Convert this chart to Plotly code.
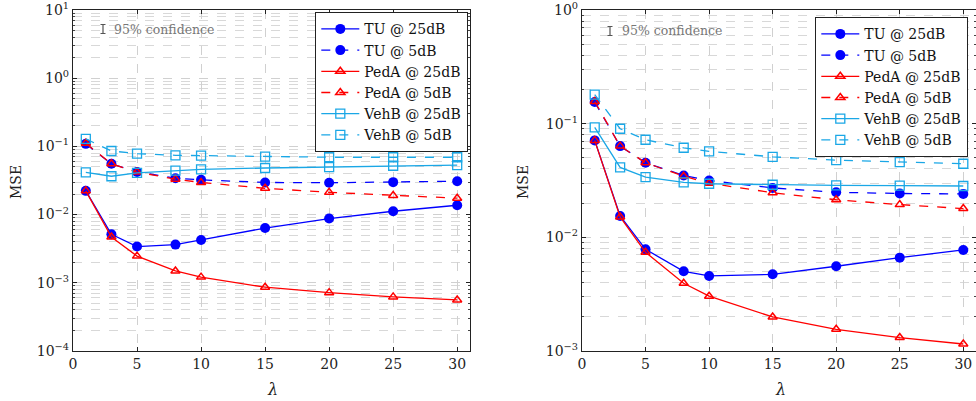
import plotly.graph_objects as go

lam = [1, 3, 5, 8, 10, 15, 20, 25, 30]

# Left panel
L_TU25 = [0.0223, 0.00513, 0.0034, 0.00363, 0.00425, 0.00634, 0.00875, 0.0112, 0.0137]
L_TU5 = [0.109, 0.0556, 0.0422, 0.0342, 0.0323, 0.0296, 0.0293, 0.0299, 0.0309]
L_PA25 = [0.0223, 0.00469, 0.00246, 0.00149, 0.00121, 0.00086, 0.000716, 0.00062, 0.00056]
L_PA5 = [0.111, 0.0556, 0.042, 0.0331, 0.0296, 0.0243, 0.0212, 0.019, 0.0174]
L_VB25 = [0.0417, 0.0365, 0.0408, 0.0441, 0.046, 0.0482, 0.0498, 0.052, 0.0532]
L_VB5 = [0.129, 0.0857, 0.0784, 0.0741, 0.0733, 0.0709, 0.0694, 0.0694, 0.0694]

# Right panel
R_TU25 = [0.0713, 0.0154, 0.00783, 0.00502, 0.00457, 0.00472, 0.00556, 0.00662, 0.00774]
R_TU5 = [0.155, 0.0635, 0.0453, 0.035, 0.0316, 0.0272, 0.0249, 0.0243, 0.0241]
R_PA25 = [0.0713, 0.0151, 0.00738, 0.00394, 0.00303, 0.00199, 0.00155, 0.00131, 0.00115]
R_PA5 = [0.157, 0.0635, 0.0453, 0.0345, 0.0299, 0.0247, 0.0214, 0.0194, 0.0179]
R_VB25 = [0.0928, 0.0412, 0.0338, 0.0305, 0.0296, 0.029, 0.0286, 0.0285, 0.0283]
R_VB5 = [0.180, 0.0903, 0.0722, 0.0614, 0.057, 0.0511, 0.0478, 0.0459, 0.0444]

names = ["TU @ 25dB", "TU @ 5dB", "PedA @ 25dB", "PedA @ 5dB", "VehB @ 25dB", "VehB @ 5dB"]
x_ticks = [0, 5, 10, 15, 20, 25, 30]

BLUE = "#0000ff"
RED = "#ff0000"
CYAN = "#1aa7e6"
FONT = "DejaVu Serif"
INK = "#222"

styles = [
    dict(color=BLUE, dash="solid", symbol="circle", msize=10, mline=0, fill=BLUE),
    dict(color=BLUE, dash="dash", symbol="circle", msize=10, mline=0, fill=BLUE),
    dict(color=RED, dash="solid", symbol="triangle-up-open", msize=8, mline=1.5, fill=RED),
    dict(color=RED, dash="dash", symbol="triangle-up-open", msize=8, mline=1.5, fill=RED),
    dict(color=CYAN, dash="solid", symbol="square-open", msize=9, mline=1.3, fill=CYAN),
    dict(color=CYAN, dash="dash", symbol="square-open", msize=9, mline=1.3, fill=CYAN),
]

fig = go.Figure()

def add_panel(series, xa, ya, legend):
    for name, ys, st in zip(names, series, styles):
        fig.add_trace(go.Scatter(
            x=lam, y=ys, name=name, mode="lines+markers",
            xaxis=xa, yaxis=ya, legend=legend,
            line=dict(color=st["color"], width=1.3, dash=st["dash"]),
            marker=dict(symbol=st["symbol"], size=st["msize"], color=st["fill"],
                        line=dict(color=st["color"], width=st["mline"])),
        ))

add_panel([L_TU25, L_TU5, L_PA25, L_PA5, L_VB25, L_VB5], "x", "y", "legend")
add_panel([R_TU25, R_TU5, R_PA25, R_PA5, R_VB25, R_VB5], "x2", "y2", "legend2")

W, H = 976, 401
def px(x):
    return x / W
def py(y):
    return 1 - y / H

ydom = [py(351), py(10)]

def xaxis(dom, rng, anchor):
    return dict(domain=dom, range=rng, anchor=anchor, tickvals=x_ticks,
                ticktext=[str(v) for v in x_ticks],
                showline=True, linecolor=INK, linewidth=1.3, mirror="ticks",
                ticks="inside", ticklen=4, tickcolor=INK, automargin=False,
                showgrid=True, gridcolor="#d0d0d0", griddash="dash", gridwidth=1,
                zeroline=False, tickfont=dict(family=FONT, size=14, color=INK))

def yaxis(dom, lo, hi, anchor):
    vals = [10 ** e for e in range(lo, hi + 1)]
    txt = ["10<sup>%s</sup>" % (str(e).replace("-", "−")) for e in range(lo, hi + 1)]
    return dict(domain=dom, type="log", range=[lo - 0.001, hi + 0.001], anchor=anchor,
                tickvals=vals, ticktext=txt, automargin=False,
                showline=True, linecolor=INK, linewidth=1.3, mirror="ticks",
                ticks="inside", ticklen=4, tickcolor=INK,
                showgrid=True, gridcolor="#d0d0d0", griddash="dash", gridwidth=1,
                minor=dict(showgrid=True, gridcolor="#d8d8d8", griddash="dash",
                           ticks="inside", ticklen=2, tickcolor="#444", dtick="D1"),
                zeroline=False, tickfont=dict(family=FONT, size=14, color=INK))

legend_style = dict(xanchor="right", yanchor="top", bgcolor="white",
                    bordercolor=INK, borderwidth=1.3, itemwidth=38,
                    font=dict(family=FONT, size=14, color="#111"), tracegroupgap=0)

fig.update_layout(
    width=W, height=H, margin=dict(l=0, r=0, t=0, b=0),
    paper_bgcolor="white", plot_bgcolor="white",
    xaxis=xaxis([px(73), px(470)], [0, 31], "y"),
    yaxis=yaxis(ydom, -4, 1, "x"),
    xaxis2=xaxis([px(582), 1.0], [0, 31], "y2"),
    yaxis2=yaxis(ydom, -3, 0, "x2"),
    legend=dict(x=px(468), y=py(12), **legend_style),
    legend2=dict(x=px(968), y=py(17), **legend_style),
    showlegend=True,
)

# axis titles
for xc, lc in [(16, 272), (523, 780)]:
    fig.add_annotation(xref="paper", yref="paper", x=px(xc), y=py(182),
                       xanchor="center", yanchor="middle",
                       text="MSE", textangle=-90, showarrow=False,
                       font=dict(family=FONT, size=14, color=INK))
    fig.add_annotation(xref="paper", yref="paper", x=px(lc), y=py(389),
                       xanchor="center", yanchor="middle",
                       text="<i>λ</i>", showarrow=False,
                       font=dict(family=FONT, size=16, color=INK))

# "95% confidence" notes with a small error-bar glyph
for gx, tx, ty in [(103, 112, 29), (610, 620, 31)]:
    fig.add_annotation(xref="paper", yref="paper", x=px(tx), y=py(ty),
                       xanchor="left", yanchor="middle", showarrow=False,
                       text="95% confidence",
                       font=dict(family=FONT, size=12.5, color="#777"))
    top, bot, half = ty - 4.5, ty + 4.5, 2.5
    path = "M %f %f L %f %f M %f %f L %f %f M %f %f L %f %f" % (
        px(gx), py(top), px(gx), py(bot),
        px(gx - half), py(top), px(gx + half), py(top),
        px(gx - half), py(bot), px(gx + half), py(bot))
    fig.add_shape(type="path", xref="paper", yref="paper", path=path,
                  line=dict(color="#555", width=1.2))

fig.write_html("out.html")
